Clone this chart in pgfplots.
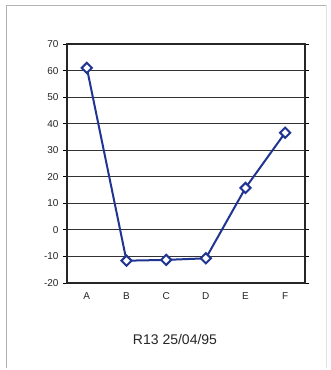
\documentclass[border=0pt]{standalone}
\usepackage{pgfplots}
\pgfplotsset{compat=1.18}
\usepackage{fontspec}
\setmainfont{Liberation Sans}
\definecolor{lineblue}{RGB}{32,52,145}
\definecolor{gridgray}{RGB}{50,50,50}
\begin{document}
\begin{tikzpicture}
  % page and outer frame
  \path[fill=white] (0pt,0pt) rectangle (330pt,-370pt);
  \draw[gray!60, line width=0.8pt] (6pt,-368pt) -- (6pt,-5pt) -- (327pt,-5pt);
  \draw[gray!25, line width=0.8pt] (326pt,-5pt) -- (326pt,-368pt);
  \begin{axis}[
    at={(67pt,-283pt)}, anchor=south west,
    scale only axis,
    width=238pt, height=239pt,
    xmin=-0.5, xmax=5.5,
    ymin=-20, ymax=70,
    ytick={-20,-10,...,70},
    xtick={0,1,2,3,4,5},
    xticklabels={A,B,C,D,E,F},
    ymajorgrids,
    grid style={gridgray, line width=0.9pt},
    axis line style={black!85, line width=1.1pt},
    tick style={black, line width=0.8pt},
    xtick style={draw=none},
    ytick align=outside,
    major tick length=4pt,
    tick label style={font=\fontsize{10}{11}\selectfont, text=black!85},
    /pgf/number format/assume math mode=true,
    xticklabel style={yshift=-6pt},
    yticklabel style={xshift=-1pt},
    clip=false,
  ]
    \addplot[
      lineblue, line width=2pt,
      mark=square*, mark size=3.6pt,
      mark options={rotate=45, fill=white, draw=lineblue, line width=2pt},
    ] coordinates {
      (0, 61)
      (1, -11.6)
      (2, -11.3)
      (3, -10.7)
      (4, 15.8)
      (5, 36.6)
    };
  \end{axis}
  \node[font=\fontsize{14}{16}\selectfont, text=black!85] at (175pt,-339pt) {R13 25/04/95};
  \path[use as bounding box] (0pt,0pt) rectangle (330pt,-370pt);
\end{tikzpicture}
\end{document}
